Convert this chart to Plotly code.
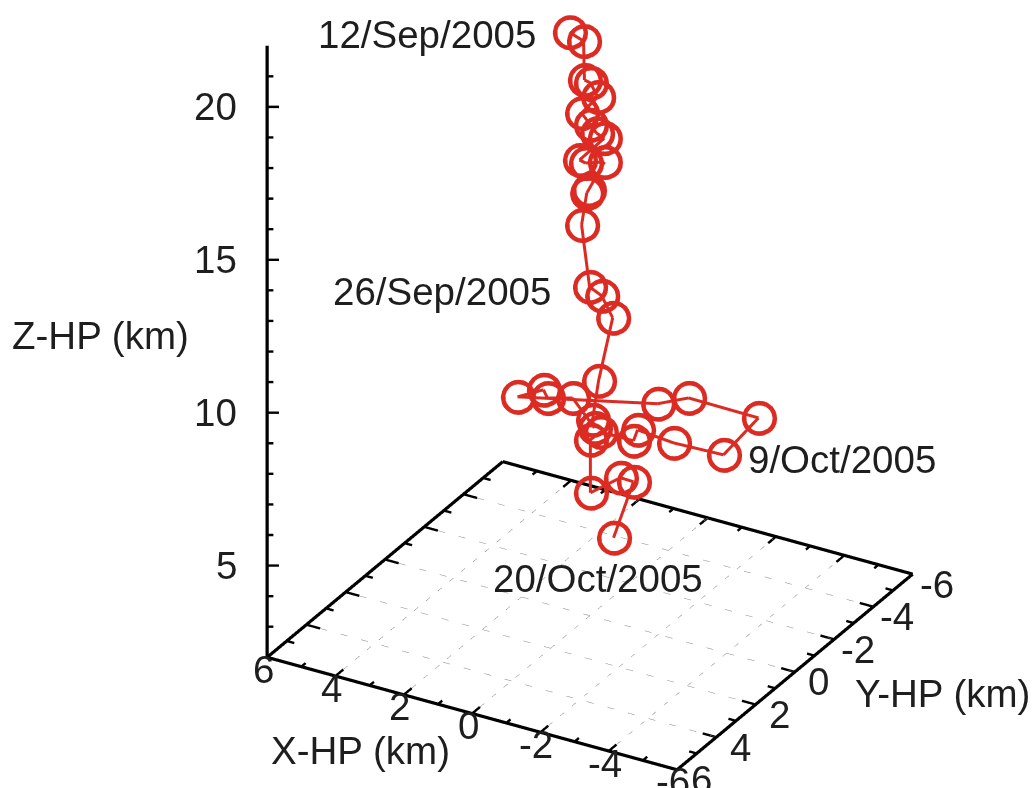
import numpy as np
import plotly.graph_objects as go

# Hypocentre track (km), in time order
x_hp = [0.45, 0.14, 0.12, -0.01, -0.17, 0.18, -0.01, -0.15, -0.32, 0.23, 0.10, -0.32, 0.03,
        0.07, 0.18, 0.01, -0.26, -0.50, -0.19, -0.06, -0.10, 0.38, 0.93, 1.02, 1.59, -1.49,
        -2.17, -3.71, -2.94, -1.84, -1.05, -0.96, -0.23, -0.01, -0.01, -0.67, -0.96, -0.52]
y_hp = [0.26, 0.08, 0.07, -0.01, -0.10, 0.11, -0.01, -0.08, -0.18, 0.13, 0.05, -0.18, 0.02,
        0.04, 0.11, 0.00, -0.15, -0.29, -0.11, -0.03, -0.06, 0.22, 0.54, 0.59, 0.92, -0.86,
        -1.25, -2.13, -1.69, -1.06, -0.60, -0.55, -0.13, -0.01, -0.01, -0.39, -0.55, -0.30]
z_hp = [21.08, 20.79, 19.52, 19.42, 18.96, 18.44, 18.05, 17.78, 17.62, 16.90, 16.80, 16.84,
        15.92, 15.82, 14.78, 12.75, 12.46, 11.74, 9.68, 8.41, 8.14, 9.12, 9.12, 9.39, 9.16,
        8.93, 9.12, 8.47, 7.26, 7.65, 8.08, 7.72, 8.01, 7.75, 6.02, 6.51, 6.38, 4.55]

# Dated events
date_idx = [0, 15, 28, 37]
date_text = ["12/Sep/2005", "26/Sep/2005", "9/Oct/2005", "20/Oct/2005"]

# Axis box and ticks
x_box = [-6, 6]
y_box = [-6, 6]
z_box = [2, 22]
xy_ticks = [-6, -4, -2, 0, 2, 4, 6]
xy_minor = [-5, -3, -1, 1, 3, 5]
z_ticks = [5, 10, 15, 20]
z_minor = [3, 4, 6, 7, 8, 9, 11, 12, 13, 14, 16, 17, 18, 19, 21]

RED = "#dc2b23"
INK = "#1e1e1e"
FONT = "Liberation Sans, Arial, sans-serif"
FS = 38.5

# scene ranges get a little slack so stroke widths around the box edges are not clipped
PAD = np.array([0.15, 0.15, 0.2])
x_range = [x_box[0] - PAD[0], x_box[1] + PAD[0]]
y_range = [y_box[0] - PAD[1], y_box[1] + PAD[1]]
z_range = [z_box[0] - PAD[2], z_box[1] + PAD[2]]

# orthographic view
PX_PER_UNIT = 197.0                      # screen pixels per normalised scene unit
PX_PER_KM = np.array([39.4, 39.4, 34.8])  # screen pixels per km along x, y, z
VIEW = np.array([-0.438, 0.762, 0.4774])
VIEW = VIEW / np.linalg.norm(VIEW)
spans = np.array([x_range[1] - x_range[0], y_range[1] - y_range[0], z_range[1] - z_range[0]])
ASPECT = PX_PER_KM * spans / (2 * PX_PER_UNIT)
CENTER = np.array([0.1085, 0.180, -0.1875])
EYE = CENTER + 2 * VIEW


def ribbon(xs, ys, zs, width, color):
    """Screen-facing quads along a polyline (None breaks it), so strokes keep their width."""
    vx, vy, vz, I, J, K = [], [], [], [], [], []
    pts = list(zip(xs, ys, zs))
    for a, b in zip(pts[:-1], pts[1:]):
        if a[0] is None or b[0] is None:
            continue
        pa = np.array(a, float) * PX_PER_KM
        pb = np.array(b, float) * PX_PER_KM
        n = np.cross(pb - pa, VIEW)
        nn = np.linalg.norm(n)
        if nn == 0:
            continue
        n = n / nn * width / 2
        base = len(vx)
        for p in (pa + n, pa - n, pb - n, pb + n):
            q = p / PX_PER_KM
            vx.append(q[0]); vy.append(q[1]); vz.append(q[2])
        I += [base, base]; J += [base + 1, base + 2]; K += [base + 2, base + 3]
    return go.Mesh3d(x=vx, y=vy, z=vz, i=I, j=J, k=K, color=color, flatshading=True,
                     lighting=dict(ambient=1, diffuse=0, specular=0, fresnel=0, roughness=1),
                     hoverinfo="skip", showscale=False)


x0, x1 = x_box
y0, y1 = y_box
zb, zt = z_box

fig = go.Figure()

# dotted grid on the base plane
gx, gy, gz = [], [], []
for v in xy_ticks[1:-1]:
    gx += [v, v, None]; gy += [y0, y1, None]; gz += [zb, zb, None]
    gx += [x0, x1, None]; gy += [v, v, None]; gz += [zb, zb, None]
fig.add_trace(go.Scatter3d(x=gx, y=gy, z=gz, mode="lines",
                           line=dict(color="#888888", width=1, dash="dot"),
                           hoverinfo="skip", showlegend=False))

# frame: base rectangle + vertical z axis at the (6, 6) corner
fx = [x1, x0, x0, x1, x1, None, x1, x1]
fy = [y1, y1, y0, y0, y1, None, y1, y1]
fz = [zb, zb, zb, zb, zb, None, zb, zt]
fig.add_trace(ribbon(fx, fy, fz, 3.2, "black"))

# inward tick marks on all four base edges and on the z axis
tx, ty, tz = [], [], []
for ticks, ln in ((xy_ticks, 0.4), (xy_minor, 0.22)):
    for v in ticks:
        tx += [v, v, None, v, v, None]; ty += [y1, y1 - ln, None, y0, y0 + ln, None]
        tz += [zb, zb, None, zb, zb, None]
        tx += [x0, x0 + ln, None, x1, x1 - ln, None]; ty += [v, v, None, v, v, None]
        tz += [zb, zb, None, zb, zb, None]
for ticks, ln in ((z_ticks, 0.3), (z_minor, 0.16)):
    for v in ticks:
        tx += [x1, x1 - 0.867 * ln, None]; ty += [y1, y1 - 0.4985 * ln, None]; tz += [v, v, None]
fig.add_trace(ribbon(tx, ty, tz, 2.4, "black"))

# hypocentre track: line, then open circles (two rings give the heavier outline)
fig.add_trace(ribbon(x_hp, y_hp, z_hp, 3.0, RED))
for ring in (20, 18.5):
    fig.add_trace(go.Scatter3d(x=x_hp, y=y_hp, z=z_hp, mode="markers",
                               marker=dict(symbol="circle-open", size=ring, color=RED),
                               hoverinfo="skip", showlegend=False))

ann = []
tick_font = dict(family=FONT, size=FS, color=INK)
for v in xy_ticks:
    ann.append(dict(x=v, y=y1, z=zb, text=str(v), showarrow=False, xanchor="center",
                    yanchor="middle", xshift=-4, yshift=-12, font=tick_font))
    ann.append(dict(x=x0, y=v, z=zb, text=str(v), showarrow=False, xanchor="center",
                    yanchor="middle", xshift=24, yshift=-10, font=tick_font))
for v in z_ticks:
    ann.append(dict(x=x1, y=y1, z=v, text=str(v), showarrow=False, xanchor="right",
                    yanchor="middle", xshift=-28, yshift=0, font=tick_font))
shifts = {0: ("right", -31, -2), 15: ("right", -37, -5), 28: ("left", 22, -5), 37: ("center", -16, -41)}
for i, t in zip(date_idx, date_text):
    xa, xs, ys = shifts[i]
    ann.append(dict(x=x_hp[i], y=y_hp[i], z=z_hp[i], text=t, showarrow=False, xanchor=xa,
                    yanchor="middle", xshift=xs, yshift=ys, font=tick_font))

hidden = dict(showticklabels=False, showgrid=False, showline=False, zeroline=False,
              showbackground=False, showspikes=False, ticks="", title=dict(text=""))


def title(text, px, py):
    return dict(text=text, x=px / 1035, y=1 - py / 788, xref="paper", yref="paper",
                xanchor="center", yanchor="middle", showarrow=False, font=tick_font)


fig.update_layout(
    width=1035, height=788,
    paper_bgcolor="white",
    margin=dict(l=0, r=0, t=0, b=0),
    scene=dict(
        domain=dict(x=[0, 1], y=[0, 1]),
        xaxis=dict(range=x_range, **hidden),
        yaxis=dict(range=y_range, **hidden),
        zaxis=dict(range=z_range, **hidden),
        aspectmode="manual",
        aspectratio=dict(x=ASPECT[0], y=ASPECT[1], z=ASPECT[2]),
        camera=dict(projection=dict(type="orthographic"),
                    eye=dict(x=EYE[0], y=EYE[1], z=EYE[2]),
                    up=dict(x=0, y=0, z=1),
                    center=dict(x=CENTER[0], y=CENTER[1], z=CENTER[2])),
        annotations=ann,
    ),
    annotations=[
        title("Z-HP (km)", 100, 335),
        title("X-HP (km)", 360, 750),
        title("Y-HP (km)", 942, 693),
    ],
)

fig.write_html("out.html")
